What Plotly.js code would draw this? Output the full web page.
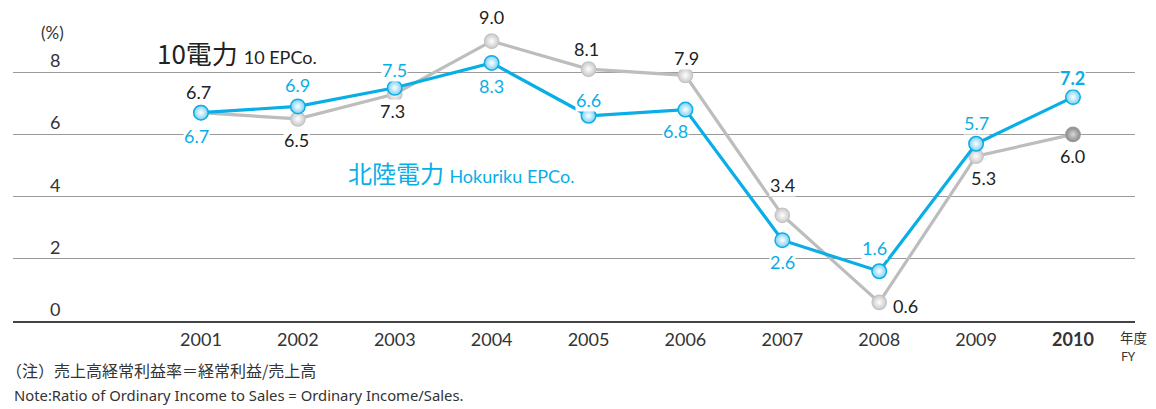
<!DOCTYPE html>
<html>
<head>
<meta charset="utf-8">
<script src="https://cdn.plot.ly/plotly-3.0.1.min.js"></script>
<style>
html,body{margin:0;padding:0;background:#fff;}
#chart{width:1156px;height:409px;}
</style>
</head>
<body>
<div id="chart"></div>
<script>
// ---- data ----
const years = ['2001','2002','2003','2004','2005','2006','2007','2008','2009','2010'];
const yearLabels = ['2001','2002','2003','2004','2005','2006','2007','2008','2009','<b>2010</b>'];
const hokuriku = [6.7, 6.9, 7.5, 8.3, 6.6, 6.8, 2.6, 1.6, 5.7, 7.2];
const epco10 = [6.7, 6.5, 7.3, 9.0, 8.1, 7.9, 3.4, 0.6, 5.3, 6.0];
const yTicks = [0, 2, 4, 6, 8];

// ---- label placement (pixel offsets, positive = up / right) ----
const hokShiftY = [-23, 21, 18, -23, 16, -21, -22, 23, 21, 19];
const hokShiftX = [-4, 0, 0, 0, 0, -10, 0, -5, 0, 0];
const epcShiftY = [21, -21, -17, 24, 20, 17, 30, -4, -22, -22];
const epcShiftX = [-2, -1, -2, 0, -2, 1, 0, 26, 7, 0];

const CYAN = '#0aaee6';
const GREY = '#bdbdbd';
const FONT = 'Lato, "Noto Sans", sans-serif';
const WFONT = '"Noto Sans", Lato, sans-serif';
const JFONT = '"Noto Sans CJK JP", "Noto Sans", sans-serif';

// plot-area geometry helpers (pixels -> paper)
const L = 13, R = 21, T = 20, B = 88, W = 1156, H = 409;
const PW = W - L - R, PH = H - T - B;
const px = x => (x - L) / PW;
const py = y => (H - B - y) / PH;

const lastIdx = epco10.length - 1;
const traces = [
  {
    x: years, y: epco10, type: 'scatter', mode: 'lines+markers',
    line: {color: GREY, width: 3.2},
    marker: {
      size: 14.5,
      color: epco10.map((v, i) => i === lastIdx ? '#8a8a8a' : '#c9c9c9'),
      gradient: {type: 'radial', color: epco10.map((v, i) => i === lastIdx ? '#d8d8d8' : '#ffffff')},
      line: {color: epco10.map((v, i) => i === lastIdx ? '#9a9a9a' : '#c4c4c4'), width: 1.2}
    },
    hoverinfo: 'skip', showlegend: false
  },
  {
    x: years, y: hokuriku, type: 'scatter', mode: 'lines+markers',
    line: {color: CYAN, width: 3.2},
    marker: {
      size: 14.5, color: '#7ccff2',
      gradient: {type: 'radial', color: '#ffffff'},
      line: {color: CYAN, width: 1.5}
    },
    hoverinfo: 'skip', showlegend: false
  }
];

const annotations = [];
// data labels
hokuriku.forEach((v, i) => {
  const last = i === hokuriku.length - 1;
  annotations.push({
    x: i, y: v, xref: 'x', yref: 'y', showarrow: false,
    xanchor: 'center', yanchor: 'middle',
    text: last ? '<b>' + v.toFixed(1) + '</b>' : v.toFixed(1),
    font: {family: FONT, size: 18, color: CYAN},
    yshift: hokShiftY[i], xshift: hokShiftX[i],
    bgcolor: '#ffffff', borderpad: 0
  });
});
epco10.forEach((v, i) => {
  annotations.push({
    x: i, y: v, xref: 'x', yref: 'y', showarrow: false,
    xanchor: 'center', yanchor: 'middle',
    text: v.toFixed(1),
    font: {family: FONT, size: 18, color: '#222'},
    yshift: epcShiftY[i], xshift: epcShiftX[i],
    bgcolor: '#ffffff', borderpad: 0
  });
});
// y tick labels above gridlines
yTicks.forEach(t => {
  annotations.push({
    x: px(55), y: t, xref: 'paper', yref: 'y', showarrow: false,
    xanchor: 'center', yanchor: 'middle',
    text: String(t), yshift: 12,
    font: {family: FONT, size: 18, color: '#333'}
  });
});
function note(x, y, text, font, xanchor, align) {
  annotations.push({x: px(x), y: py(y), xref: 'paper', yref: 'paper', showarrow: false,
    xanchor: xanchor || 'left', yanchor: 'middle', align: align || 'left', text: text, font: font});
}
// unit
note(52, 33, '(%)', {family: FONT, size: 17, color: '#333'}, 'center', 'center');
// series names
note(155, 52, '10電力 <span style="font-family:Lato;font-size:18px">10 EPCo.</span>',
  {family: JFONT, size: 26, color: '#222'});
note(346, 172, '北陸電力 <span style="font-family:Lato;font-size:18px">Hokuriku EPCo.</span>',
  {family: JFONT, size: 24, color: CYAN});
// FY label
note(1118, 337, '年度', {family: JFONT, size: 13.5, color: '#333'});
note(1119, 356, 'FY', {family: WFONT, size: 13, color: '#333'});
// footnotes
note(4, 370, '（注）売上高経常利益率＝経常利益/売上高', {family: JFONT, size: 16, color: '#333'});
note(12, 395, 'Note:Ratio of Ordinary Income to Sales = Ordinary Income/Sales.',
  {family: WFONT, size: 14.8, color: '#333'});

const layout = {
  width: W, height: H,
  margin: {l: L, r: R, t: T, b: B},
  paper_bgcolor: '#ffffff', plot_bgcolor: '#ffffff',
  showlegend: false,
  xaxis: {
    type: 'category', range: [-1.94, 9.64],
    tickvals: years, ticktext: yearLabels,
    showgrid: false, zeroline: false,
    showline: true, linecolor: '#444', linewidth: 1.5,
    ticks: '', ticklen: 0, ticklabelstandoff: 2,
    tickfont: {family: FONT, size: 18, color: '#333'},
    fixedrange: true
  },
  yaxis: {
    range: [0, 9.68], tickvals: yTicks, showticklabels: false,
    showgrid: true, gridcolor: '#9a9a9a', gridwidth: 1,
    zeroline: false, showline: false, ticks: '',
    fixedrange: true
  },
  annotations: annotations
};

Plotly.newPlot('chart', traces, layout, {displayModeBar: false, staticPlot: true});
</script>
</body>
</html>
